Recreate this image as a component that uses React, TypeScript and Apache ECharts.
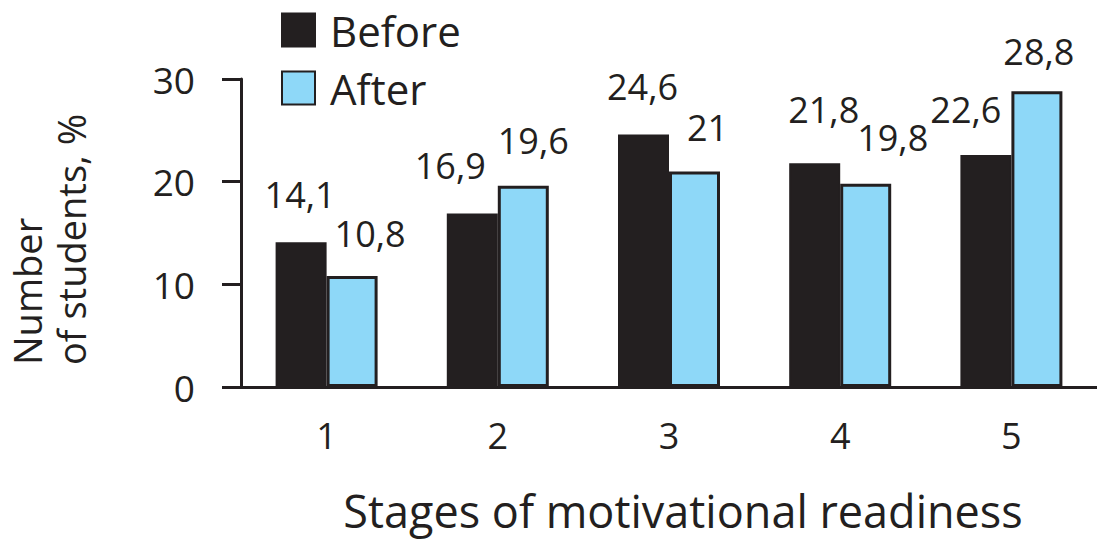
import React, { useEffect, useRef } from "react";
import * as echarts from "echarts";

const categories = ["1", "2", "3", "4", "5"];
const beforeValues = [14.1, 16.9, 24.6, 21.8, 22.6];
const afterValues = [10.8, 19.6, 21, 19.8, 28.8];
const yTicks = { min: 0, max: 30, interval: 10 };

// label placement tweaks (style only)
const beforeLabelDx = [-1, -22, -1, 9, -20];
const beforeLabelDy = [49, 49, 49, 55, 46];
const afterLabelDx = [18, 10, 13, 27, 2];
const afterLabelDy = [44, 46, 45, 47, 41];

const INK = "#231f20";
const BLUE = "#8ed8f8";
const FONT = "Open Sans";

const fmt = (v: number) => String(v).replace(".", ",");

export default function App() {
  const ref = useRef<HTMLDivElement>(null);
  useEffect(() => {
    document.body.style.margin = "0";
    const chart = echarts.init(ref.current!, null, { renderer: "svg" });
    const mk = (vals: number[], dxs: number[], dys: number[]) =>
      vals.map((v, i) => ({
        value: v,
        label: { offset: [dxs[i], -(dys[i] - 19)] },
      }));
    chart.setOption({
      animation: false,
      textStyle: { fontFamily: FONT, color: INK },
      legend: {
        orient: "vertical",
        left: 276,
        top: 4,
        itemWidth: 33,
        itemHeight: 33,
        itemGap: 16,
        icon: "rect",
        textStyle: { fontSize: 42, lineHeight: 42, color: INK, fontFamily: FONT, padding: [0, 0, 0, 10] },
        data: ["Before", "After"],
      },
      grid: { left: 241, top: 79, right: 0, bottom: 155, containLabel: false },
      xAxis: {
        type: "category",
        data: categories,
        axisLine: { lineStyle: { color: INK, width: 3 } },
        axisTick: { length: 18, lineStyle: { color: INK, width: 3 } },
        axisLabel: { fontSize: 36, color: INK, fontFamily: FONT, margin: 30 },
      },
      yAxis: {
        type: "value",
        min: yTicks.min,
        max: yTicks.max,
        interval: yTicks.interval,
        splitLine: { show: false },
        axisLine: { show: true, lineStyle: { color: INK, width: 3 } },
        axisTick: { show: true, length: 19, lineStyle: { color: INK, width: 3 } },
        axisLabel: { fontSize: 37, color: INK, fontFamily: FONT, margin: 46 },
      },
      series: [
        {
          name: "Before",
          type: "bar",
          barWidth: 51,
          barGap: "0%",
          data: mk(beforeValues, beforeLabelDx, beforeLabelDy),
          itemStyle: { color: INK, borderColor: INK, borderWidth: 2 },
          label: {
            show: true,
            position: "top",
            distance: 0,
            fontSize: 36,
            color: INK,
            fontFamily: FONT,
            formatter: (p: any) => fmt(p.value),
          },
        },
        {
          name: "After",
          type: "bar",
          barWidth: 51,
          data: mk(afterValues, afterLabelDx, afterLabelDy),
          itemStyle: { color: BLUE, borderColor: INK, borderWidth: 3 },
          label: {
            show: true,
            position: "top",
            distance: 0,
            fontSize: 36,
            color: INK,
            fontFamily: FONT,
            formatter: (p: any) => fmt(p.value),
          },
        },
      ],
      graphic: [
        {
          type: "text",
          x: 683,
          y: 510,
          style: {
            text: "Stages of motivational readiness",
            font: `45px "${FONT}"`,
            fill: INK,
            textAlign: "center",
            textVerticalAlign: "middle",
          },
        },
        {
          type: "text",
          x: 49,
          y: 365,
          rotation: Math.PI / 2,
          style: {
            text: "Number\nof students, %",
            font: `38px "${FONT}"`,
            lineHeight: 44,
            fill: INK,
            textAlign: "left",
            textVerticalAlign: "middle",
          },
        },
      ],
    });
    return () => chart.dispose();
  }, []);
  return <div ref={ref} style={{ width: 1097, height: 542 }} />;
}
